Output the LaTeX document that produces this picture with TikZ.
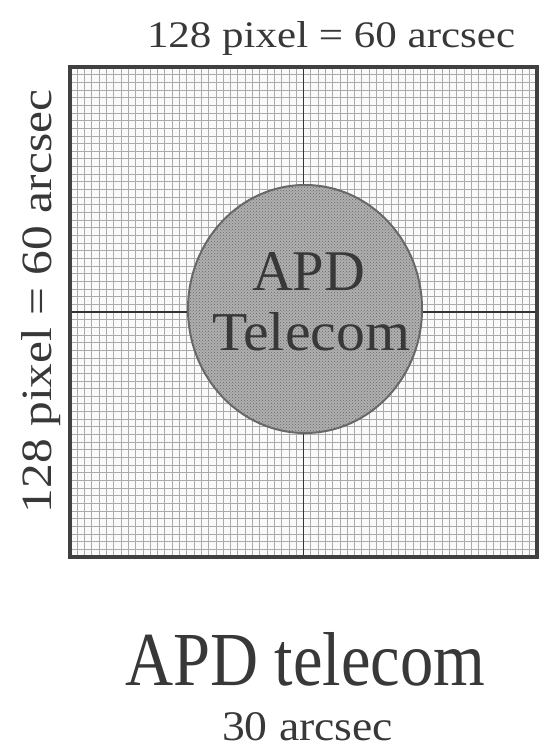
\documentclass[tikz,border=0pt]{standalone}
\usepackage{fontspec}
\setmainfont{Liberation Serif}
\usepackage{graphicx}
\usetikzlibrary{shapes.geometric,patterns}
\definecolor{txt}{HTML}{383838}
\definecolor{gridc}{HTML}{ABABAB}
\definecolor{framec}{HTML}{404040}
\definecolor{circfill}{HTML}{B0B0B0}
\definecolor{circline}{HTML}{686868}
\tikzset{
  lbl/.style={inner sep=0pt, outer sep=0pt, text=txt, anchor=base west},
  gridline/.style={draw=gridc, line width=0.8pt},
  frameline/.style={draw=framec, line width=3.2pt},
  crossline/.style={draw=framec!80!black, line width=1.8pt},
}
\begin{document}
\begin{tikzpicture}[x=1pt,y=-1pt]
\useasboundingbox (0,0) rectangle (540,756);
% box background
\fill[gray!4] (70,67) rectangle (537,557);
% fine grid
\foreach \i in {1,...,63}{
  \draw[gridline] ({70+\i*7.296875},67) -- ({70+\i*7.296875},557);
  \draw[gridline] (70,{67+\i*7.65625}) -- (537,{67+\i*7.65625});
}
% centre cross
\draw[crossline] (303.5,67) -- (303.5,557);
\draw[crossline] (70,312) -- (537,312);
% frame
\draw[frameline] (70,67) rectangle (537,557);
% detector circle
\node[draw=circline, line width=2pt, fill=circfill, ellipse, inner sep=0pt,
      minimum width=234pt, minimum height=248pt] (circ) at (305,309) {};
\fill[pattern=crosshatch dots, pattern color=gray!80!black] (circ.center) ellipse [x radius=116pt, y radius=123pt];
% circle labels
\node[lbl] (apd) at (252,290) {\resizebox{113pt}{38pt}{APD}};
\node[lbl] (tel) at (212,350) {\resizebox{198pt}{38pt}{Telecom}};
% top label
\node[lbl] (top) at (147,47) {\resizebox{368pt}{26pt}{128 pixel = 60 arcsec}};
% left label
\node[lbl, rotate=90] (left) at (52,513) {\resizebox{423pt}{30pt}{128 pixel = 60 arcsec}};
% bottom titles
\node[lbl] (title) at (125,685) {\resizebox{360pt}{53pt}{APD telecom}};
\node[lbl] (sub) at (222,740) {\resizebox{171pt}{28pt}{30 arcsec}};
\end{tikzpicture}
\end{document}
